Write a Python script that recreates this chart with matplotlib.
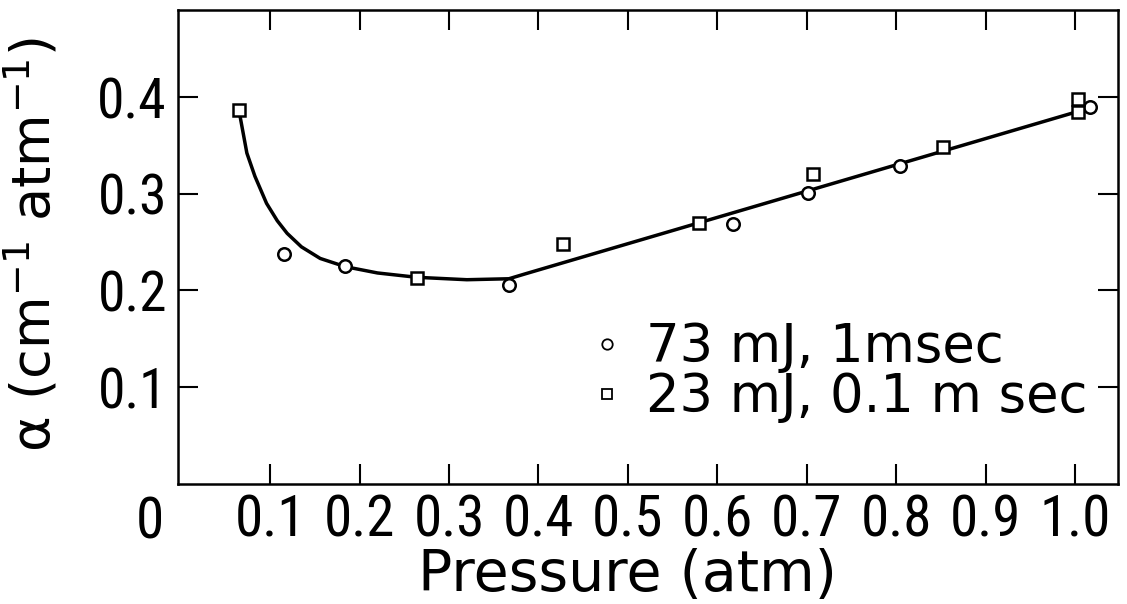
import matplotlib
matplotlib.use("Agg")
import matplotlib.pyplot as plt
from matplotlib import font_manager as fm
from matplotlib.lines import Line2D

# ---------------- data ----------------
p_73mJ = [0.116, 0.184, 0.367, 0.618, 0.701, 0.804, 1.017]
a_73mJ = [0.238, 0.225, 0.2055, 0.269, 0.301, 0.329, 0.390]

p_23mJ = [0.065, 0.264, 0.428, 0.580, 0.707, 0.852, 1.003, 1.003]
a_23mJ = [0.387, 0.213, 0.248, 0.270, 0.320, 0.348, 0.398, 0.384]

curve_p = [0.066, 0.070, 0.074, 0.083, 0.096, 0.108, 0.119, 0.135, 0.156,
           0.184, 0.220, 0.264, 0.320, 0.367, 0.385, 1.003]
curve_a = [0.382, 0.362, 0.342, 0.318, 0.290, 0.272, 0.259, 0.245, 0.233,
           0.2245, 0.218, 0.2135, 0.211, 0.212, 0.217, 0.385]

x_ticks = [0.1, 0.2, 0.3, 0.4, 0.5, 0.6, 0.7, 0.8, 0.9, 1.0]
x_ticklabels = ["0.1", "0.2", "0.3", "0.4", "0.5", "0.6", "0.7", "0.8", "0.9", "1.0"]
y_ticks = [0.1, 0.2, 0.3, 0.4]
y_ticklabels = ["0.1", "0.2", "0.3", "0.4"]

label_73 = "73 mJ, 1msec"
label_23 = "23 mJ, 0.1 m sec"

# ---------------- fonts ----------------
avail = {f.name for f in fm.fontManager.ttflist}
narrow = next((f for f in ["Liberation Sans Narrow", "DejaVu Sans Condensed",
                           "Roboto Condensed"] if f in avail), None)
if narrow is None:
    tick_family, xt_size, yt_size = "DejaVu Sans", 32, 30
else:
    tick_family, xt_size, yt_size = narrow, 41, 40

plt.rcParams["font.family"] = ["DejaVu Sans"]
plt.rcParams["mathtext.fontset"] = "dejavusans"

W, H = 1127, 604
fig = plt.figure(figsize=(W / 100, H / 100), dpi=100)
ax = fig.add_axes([178 / W, 1 - 483.7 / H, 940 / W, 473.7 / H])
ax.set_xlim(-0.003, 1.048)
ax.set_ylim(0, 0.49)

for s in ax.spines.values():
    s.set_linewidth(1.8)

ax.plot(curve_p, curve_a, color="black", lw=2.5, zorder=2, solid_capstyle="round")
ax.plot(p_73mJ, a_73mJ, linestyle="none", marker="o", ms=9, mew=1.8,
        mfc="white", mec="black", zorder=3)
ax.plot(p_23mJ, a_23mJ, linestyle="none", marker="s", ms=8.5, mew=1.8,
        mfc="white", mec="black", zorder=3)

ax.set_xticks(x_ticks)
ax.set_xticklabels(x_ticklabels, family=tick_family, fontsize=xt_size)
ax.set_yticks(y_ticks)
ax.set_yticklabels(y_ticklabels, family=tick_family, fontsize=yt_size)
ax.tick_params(direction="in", length=14.5, width=1.5, top=True, right=True)
ax.tick_params(axis="x", pad=7)
ax.tick_params(axis="y", pad=8)

# "0" label at the origin, offset to the left
ax.text(-0.034, -0.012, "0", family=tick_family, fontsize=xt_size,
        ha="center", va="top", clip_on=False)

fig.text(4 / W, 1 - 245 / H, "α (cm$^{-1}$ atm$^{-1}$)", rotation=90,
         ha="left", va="center", fontsize=39)
fig.text(627 / W, 1 - 603 / H, "Pressure (atm)", ha="center", va="bottom",
         fontsize=41)

handles = [
    Line2D([], [], linestyle="none", marker="o", ms=7.5, mew=1.3, mfc="white", mec="black"),
    Line2D([], [], linestyle="none", marker="s", ms=7.5, mew=1.3, mfc="white", mec="black"),
]
leg = fig.legend(handles, [label_73, label_23], loc="upper left",
                 bbox_to_anchor=(594 / W, 1 - 321 / H), frameon=False,
                 fontsize=38, handlelength=0.5, handletextpad=0.48,
                 borderpad=0, borderaxespad=0, labelspacing=-0.03, numpoints=1)

fig.savefig("out.png", dpi=100)
